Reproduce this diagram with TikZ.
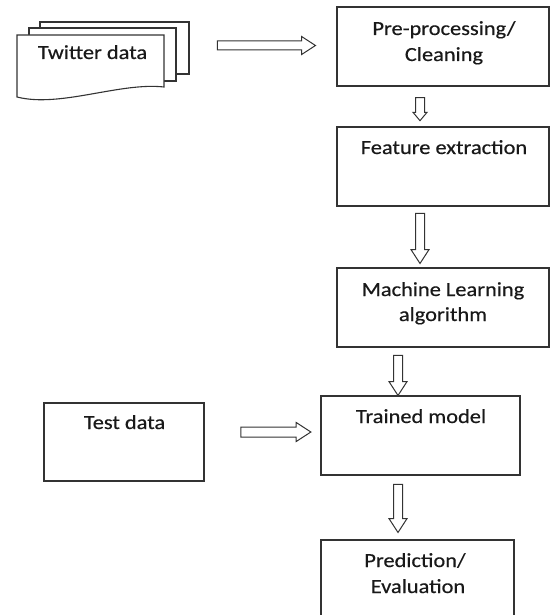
\documentclass[tikz,border=0pt]{standalone}
\usepackage{fontspec}
\setmainfont{Carlito}[FakeStretch=1.12,FakeBold=0.4]
\usetikzlibrary{shapes.arrows,calc}
\newcommand\blockarr[3][]{\path let \p1=($(#3)-(#2)$), \n1={veclen(\x1,\y1)} in (#2) -- (#3) node[midway, sloped, allow upside down, barrow, minimum height=\n1, #1]{};}
\begin{document}
\begin{tikzpicture}[x=1pt,y=1pt,
  line/.style={draw=black!80, line width=1.1pt},
  box/.style={line, fill=white, inner sep=0pt, rectangle},
  sheet/.style={line, fill=white},
  txt/.style={anchor=base, inner sep=0pt, font=\fontsize{20}{24}\selectfont, text=black!90},
  barrow/.style={single arrow, draw=black!80, line width=1pt, fill=white,
    inner xsep=0pt, inner ysep=4pt, single arrow head extend=4.5pt,
    single arrow tip angle=66, outer sep=0pt}]
\useasboundingbox (0,0) rectangle (550,-615);
\fill[white] (0,0) rectangle (550,-615);
\clip (0,0) rectangle (550,-615);
% Twitter data document stack
\draw[sheet] (40,-22) rectangle (189,-74);
\draw[sheet] (29,-28) rectangle (176,-81);
\draw[sheet] (17,-35) -- (164,-35) -- (164,-87) .. controls (120,-82) and (60,-108) .. (17,-97) -- cycle;
\node[txt] (twitter) at (92.5,-59) {Twitter data};
% boxes
\node[box, minimum width=212pt, minimum height=79pt] (pre) at (443,-46.5) {};
\node[txt] (preA) at (444,-35) {Pre-processing/};
\node[txt] (preB) at (444,-61) {Cleaning};
\node[box, minimum width=212pt, minimum height=79pt] (feat) at (443,-166.5) {};
\node[txt] (featA) at (444,-154) {Feature extraction};
\node[box, minimum width=212pt, minimum height=79pt] (ml) at (443,-307.5) {};
\node[txt] (mlA) at (443,-296) {Machine Learning};
\node[txt] (mlB) at (443,-321) {algorithm};
\node[box, minimum width=199pt, minimum height=79pt] (trained) at (420.5,-435.5) {};
\node[txt] (trA) at (421,-423) {Trained model};
\node[box, minimum width=160pt, minimum height=78pt] (test) at (124,-442) {};
\node[txt] (teA) at (124.5,-429) {Test data};
\node[box, minimum width=193pt, minimum height=85pt] (pred) at (417.5,-582.5) {};
\node[txt] (prA) at (415,-567) {Prediction/};
\node[txt] (prB) at (418,-593) {Evaluation};
% arrow end points
\coordinate (h1s) at (214,-45.5); \coordinate (h1e) at (312,-45.5);
\coordinate (v1s) at (420,-95);   \coordinate (v1e) at (420,-118);
\coordinate (v2s) at (420,-210);  \coordinate (v2e) at (420,-260);
\coordinate (v3s) at (398,-352);  \coordinate (v3e) at (398,-392);
\coordinate (h2s) at (237,-432);  \coordinate (h2e) at (307,-432);
\coordinate (v4s) at (398,-481);  \coordinate (v4e) at (398,-529);
\blockarr{h1s}{h1e}
\blockarr[single arrow head extend=2.5pt, single arrow tip angle=80]{v1s}{v1e}
\blockarr{v2s}{v2e}
\blockarr{v3s}{v3e}
\blockarr[inner ysep=4.5pt]{h2s}{h2e}
\blockarr{v4s}{v4e}
\end{tikzpicture}
\end{document}
